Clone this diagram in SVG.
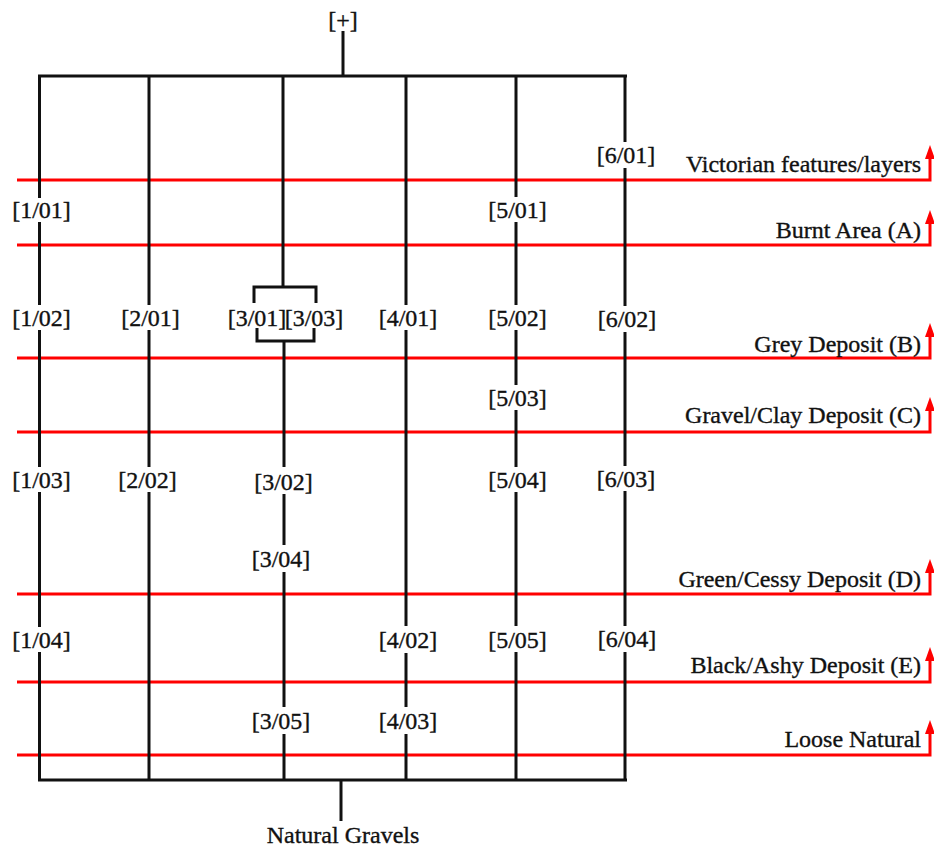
<svg xmlns="http://www.w3.org/2000/svg" width="934" height="848" viewBox="0 0 934 848">
<defs>
<style>
text{font-family:"Liberation Serif","Times New Roman",serif;font-size:24px;fill:#111;stroke:#111;stroke-width:0.35}
.n{text-anchor:middle}
.l{text-anchor:end}
.k{stroke:#111;stroke-width:3;fill:none}
.r{stroke:#f00;stroke-width:3;fill:none}
.ah{fill:#f00}
.bg{fill:#fff}
</style>
</defs>
<rect width="934" height="848" fill="#fff"/>
<g id="layers">
<path class="r" d="M17,180 H930 V156"/><path class="ah" d="M925,159 L930,145 L935,159 Z"/>
<path class="r" d="M17,245 H930 V221"/><path class="ah" d="M925,224 L930,210 L935,224 Z"/>
<path class="r" d="M17,358 H930 V334"/><path class="ah" d="M925,337 L930,323 L935,337 Z"/>
<path class="r" d="M17,432 H930 V408"/><path class="ah" d="M925,411 L930,397 L935,411 Z"/>
<path class="r" d="M17,594 H930 V570"/><path class="ah" d="M925,573 L930,559 L935,573 Z"/>
<path class="r" d="M17,682 H930 V658"/><path class="ah" d="M925,661 L930,647 L935,661 Z"/>
<path class="r" d="M17,755 H930 V731"/><path class="ah" d="M925,734 L930,720 L935,734 Z"/>
<text class="l" x="921" y="172">Victorian features/layers</text>
<text class="l" x="921" y="238">Burnt Area (A)</text>
<text class="l" x="921" y="352">Grey Deposit (B)</text>
<text class="l" x="921" y="423">Gravel/Clay Deposit (C)</text>
<text class="l" x="921" y="587">Green/Cessy Deposit (D)</text>
<text class="l" x="921" y="673">Black/Ashy Deposit (E)</text>
<text class="l" x="921" y="747">Loose Natural</text>
</g>
<g id="connectors">
<path class="k" d="M343,31 V76"/>
<path class="k" d="M38,76 H627"/>
<path class="k" d="M38,780 H627"/>
<path class="k" d="M341,780 V821"/>
<path class="k" d="M39.5,76 V780"/>
<path class="k" d="M149,76 V780"/>
<path class="k" d="M283,76 V287 M254,303 V287 H316 V303"/>
<path class="k" d="M257,328 V341 H314 V328 M284,341 V780"/>
<path class="k" d="M406,76 V780"/>
<path class="k" d="M516,76 V780"/>
<path class="k" d="M625,76 V780"/>
</g>
<g id="top"><text class="n" x="343" y="28">[+]</text></g>
<g id="bottom"><text class="n" x="343" y="843">Natural Gravels</text></g>
<g id="n1-01"><rect class="bg" x="11" y="198" width="62" height="24"/><text class="n" x="41.5" y="218">[1/01]</text></g>
<g id="n1-02"><rect class="bg" x="11" y="305" width="62" height="25"/><text class="n" x="41.5" y="326">[1/02]</text></g>
<g id="n1-03"><rect class="bg" x="11" y="467" width="62" height="25"/><text class="n" x="41.5" y="488">[1/03]</text></g>
<g id="n1-04"><rect class="bg" x="11" y="627" width="62" height="25"/><text class="n" x="41.5" y="648">[1/04]</text></g>
<g id="n2-01"><rect class="bg" x="120" y="305" width="62" height="25"/><text class="n" x="150.5" y="326">[2/01]</text></g>
<g id="n2-02"><rect class="bg" x="117" y="467" width="62" height="25"/><text class="n" x="147.5" y="488">[2/02]</text></g>
<g id="n3-01"><text class="n" x="257" y="326">[3/01]</text></g>
<g id="n3-03"><text class="n" x="314" y="326">[3/03]</text></g>
<g id="n3-02"><rect class="bg" x="253" y="467" width="62" height="27"/><text class="n" x="283.5" y="490">[3/02]</text></g>
<g id="n3-04"><rect class="bg" x="250" y="545" width="62" height="27"/><text class="n" x="281" y="567">[3/04]</text></g>
<g id="n3-05"><rect class="bg" x="250" y="707" width="62" height="27"/><text class="n" x="281" y="729">[3/05]</text></g>
<g id="n4-01"><rect class="bg" x="377" y="305" width="62" height="25"/><text class="n" x="408" y="326">[4/01]</text></g>
<g id="n4-02"><rect class="bg" x="377" y="626" width="62" height="27"/><text class="n" x="408" y="648">[4/02]</text></g>
<g id="n4-03"><rect class="bg" x="377" y="707" width="62" height="27"/><text class="n" x="408" y="729">[4/03]</text></g>
<g id="n5-01"><rect class="bg" x="487" y="197" width="62" height="25"/><text class="n" x="517.5" y="218">[5/01]</text></g>
<g id="n5-02"><rect class="bg" x="487" y="305" width="62" height="25"/><text class="n" x="517.5" y="326">[5/02]</text></g>
<g id="n5-03"><rect class="bg" x="487" y="385" width="62" height="25"/><text class="n" x="517.5" y="406">[5/03]</text></g>
<g id="n5-04"><rect class="bg" x="487" y="467" width="62" height="25"/><text class="n" x="517.5" y="488">[5/04]</text></g>
<g id="n5-05"><rect class="bg" x="487" y="626" width="62" height="26"/><text class="n" x="517.5" y="648">[5/05]</text></g>
<g id="n6-01"><rect class="bg" x="595" y="142" width="62" height="26"/><text class="n" x="626" y="163">[6/01]</text></g>
<g id="n6-02"><rect class="bg" x="596" y="306" width="62" height="26"/><text class="n" x="627" y="327">[6/02]</text></g>
<g id="n6-03"><rect class="bg" x="595" y="466" width="62" height="25"/><text class="n" x="626" y="487">[6/03]</text></g>
<g id="n6-04"><rect class="bg" x="596" y="626" width="62" height="26"/><text class="n" x="627" y="647">[6/04]</text></g>
</svg>
